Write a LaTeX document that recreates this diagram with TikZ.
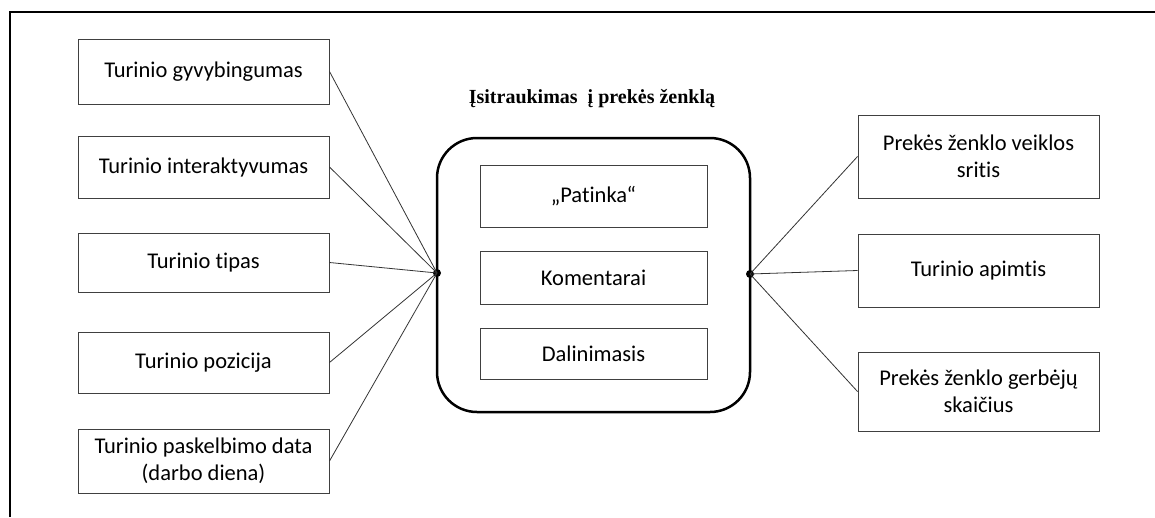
\documentclass[tikz,border=0pt]{standalone}
\usepackage{fontspec}
\setmainfont{Carlito}[Ligatures=NoCommon]
\newfontfamily\titlefont{Liberation Serif}
\begin{document}
\begin{tikzpicture}[x=1pt,y=-1pt,
  factor/.style={draw=black!75, line width=1pt, fill=white, align=center,
    font=\fontsize{22.5}{27}\selectfont, inner sep=0pt},
  leftbox/.style={factor, minimum width=251pt},
  rightbox/.style={factor, minimum width=241pt},
  innerbox/.style={factor, minimum width=227pt},
  hub/.style={circle, fill=black, inner sep=0pt, minimum size=8pt},
  link/.style={draw=black!80, line width=0.8pt}]
\useasboundingbox (0,0) rectangle (1155,517);
% frame (top and left edges)
\draw[line width=2pt] (10,517) -- (10,12) -- (1155,12);

% title
\node[anchor=base, font=\titlefont\bfseries\fontsize{20}{24}\selectfont] (title) at (592,103) {Įsitraukimas\ \ į prekės ženklą};

% central engagement block
\node[draw, line width=2.5pt, rounded corners=40pt, minimum width=313pt, minimum height=274pt] (core) at (593.5,275) {};
\node[innerbox, minimum height=62pt] (like) at (593.5,196) {„Patinka“};
\node[innerbox, minimum height=53pt] (comm) at (593.5,277.5) {Komentarai};
\node[innerbox, minimum height=51pt] (share) at (593.5,353.5) {Dalinimasis};

% junction points on the block sides
\node[hub] (lhub) at (437,273) {};
\node[hub] (rhub) at (750,274) {};

% content factors
\node[leftbox, minimum height=65pt] (l1) at (203.5,71.5) {Turinio gyvybingumas};
\node[leftbox, minimum height=62pt] (l2) at (203.5,167) {Turinio interaktyvumas};
\node[leftbox, minimum height=59pt] (l3) at (203.5,262.5) {Turinio tipas};
\node[leftbox, minimum height=61pt] (l4) at (203.5,362.5) {Turinio pozicija};
\node[leftbox, minimum height=64pt] (l5) at (203.5,461) {Turinio paskelbimo data\\(darbo diena)};

% brand factors
\node[rightbox, minimum height=83pt] (r1) at (978.5,156.5) {Prekės ženklo veiklos\\sritis};
\node[rightbox, minimum height=73pt] (r2) at (978.5,270.5) {Turinio apimtis};
\node[rightbox, minimum height=79pt] (r3) at (978.5,391.5) {Prekės ženklo gerbėjų\\skaičius};

% connectors
\foreach \b in {l1,l2,l3,l4,l5} \draw[link] (\b.east) -- (lhub.center);
\foreach \b in {r1,r2,r3} \draw[link] (\b.west) -- (rhub.center);
\end{tikzpicture}
\end{document}
